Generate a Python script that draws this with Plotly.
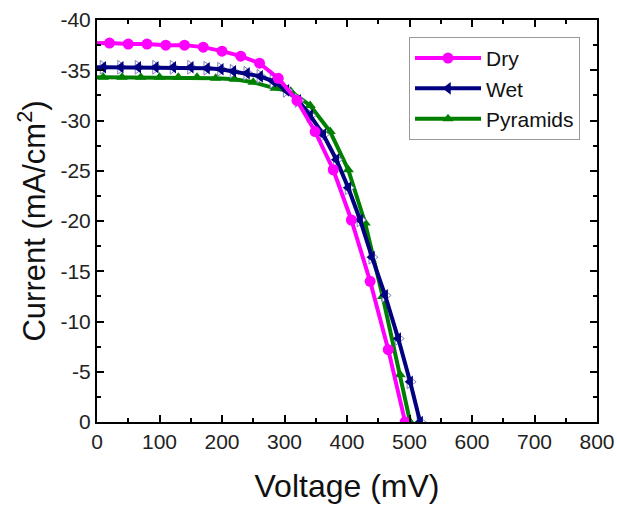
import plotly.graph_objects as go

# J-V curves of the three surface treatments
dry_v = [0, 20, 50, 80, 110, 140, 170, 200, 230, 260, 290, 320, 349, 378, 407, 437, 466, 493]
dry_i = [-37.7, -37.7, -37.6, -37.6, -37.5, -37.5, -37.3, -36.9, -36.4, -35.7, -34.2,
         -32.0, -28.9, -25.1, -20.1, -14.0, -7.2, 0.0]

wet_v = [0, 10, 38, 66, 94, 122, 150, 176, 198, 218, 240, 261, 282, 303, 322, 341, 362,
         383, 402, 421, 440, 461, 482, 501, 517]
wet_i = [-35.3, -35.3, -35.3, -35.3, -35.3, -35.3, -35.3, -35.2, -35.1, -34.9, -34.7,
         -34.4, -33.9, -33.0, -32.0, -30.5, -28.6, -26.1, -23.3, -20.1, -16.4, -12.6,
         -8.3, -4.0, 0.0]

pyr_v = [0, 10, 40, 70, 100, 130, 160, 190, 220, 250, 285, 310, 341, 373, 402, 429, 457, 485, 501]
pyr_i = [-34.3, -34.3, -34.3, -34.3, -34.3, -34.3, -34.3, -34.2, -34.1, -33.8, -33.2,
         -32.9, -31.5, -28.9, -25.1, -19.8, -12.5, -4.7, 0.0]

x_ticks = [0, 100, 200, 300, 400, 500, 600, 700, 800]
y_ticks = [0, -5, -10, -15, -20, -25, -30, -35, -40]
y_labels = ["0", "-5", "-10", "-15", "-20", "-25", "-30", "-35", "-40"]

DRY = "#ff00ff"
WET = "#000080"
PYR = "#008000"
LW = 4
FONT = "Liberation Sans, Arial"

fig = go.Figure()

# short line segments from the axis to the first marked point
for v, i, c in ((pyr_v, pyr_i, PYR), (wet_v, wet_i, WET), (dry_v, dry_i, DRY)):
    fig.add_trace(go.Scatter(x=v[:2], y=i[:2], mode="lines", line=dict(color=c, width=LW),
                             showlegend=False, hoverinfo="skip"))

dry_trace = go.Scatter(x=dry_v[1:], y=dry_i[1:], mode="lines+markers", name="Dry",
                       line=dict(color=DRY, width=LW),
                       marker=dict(symbol="circle", size=11, color=DRY))

# Wet: navy left-pointing half, white right-pointing half
wet_white = go.Scatter(x=wet_v[1:], y=wet_i[1:], mode="markers", showlegend=False,
                       hoverinfo="skip",
                       marker=dict(symbol="triangle-right", size=12, color="white",
                                   line=dict(color="#8080c0", width=1)))
wet_trace = go.Scatter(x=wet_v[1:], y=wet_i[1:], mode="lines+markers", name="Wet",
                       line=dict(color=WET, width=LW),
                       marker=dict(symbol="triangle-left", size=11, color=WET))

pyr_trace = go.Scatter(x=pyr_v[1:], y=pyr_i[1:], mode="lines+markers", name="Pyramids",
                       line=dict(color=PYR, width=LW),
                       marker=dict(symbol="triangle-up", size=10, color=PYR))

fig.add_trace(pyr_trace)
fig.add_trace(wet_white)
fig.add_trace(wet_trace)
fig.add_trace(dry_trace)

axis_common = dict(
    showline=True, linecolor="black", linewidth=2, mirror="allticks",
    ticks="inside", ticklen=7, tickwidth=2, tickcolor="black",
    showgrid=False, zeroline=False, automargin=False,
    tickfont=dict(family=FONT, size=21, color="#222"),
)

fig.update_xaxes(
    range=[0, 800], tickvals=x_ticks,
    minor=dict(dtick=50, ticks="inside", ticklen=4, tickwidth=2, tickcolor="black", showgrid=False),
    title=dict(text="Voltage (mV)", font=dict(family=FONT, size=32, color="#111"), standoff=22),
    **axis_common,
)
fig.update_yaxes(
    range=[0, -40], tickvals=y_ticks, ticktext=y_labels,
    minor=dict(dtick=2.5, ticks="inside", ticklen=4, tickwidth=2, tickcolor="black", showgrid=False),
    title=dict(text="Current (mA/cm<sup>2</sup>)", font=dict(family=FONT, size=31, color="#111"),
               standoff=6),
    **axis_common,
)

fig.update_layout(
    width=617, height=506,
    margin=dict(l=97, r=20, t=20, b=84),
    paper_bgcolor="white", plot_bgcolor="white",
    legend=dict(x=0.624, y=0.958, xanchor="left", yanchor="top",
                bgcolor="white", bordercolor="#999", borderwidth=1,
                font=dict(family=FONT, size=21, color="#111"),
                traceorder="reversed", tracegroupgap=0, itemwidth=66),
    showlegend=True,
)

fig.write_html("out.html")
